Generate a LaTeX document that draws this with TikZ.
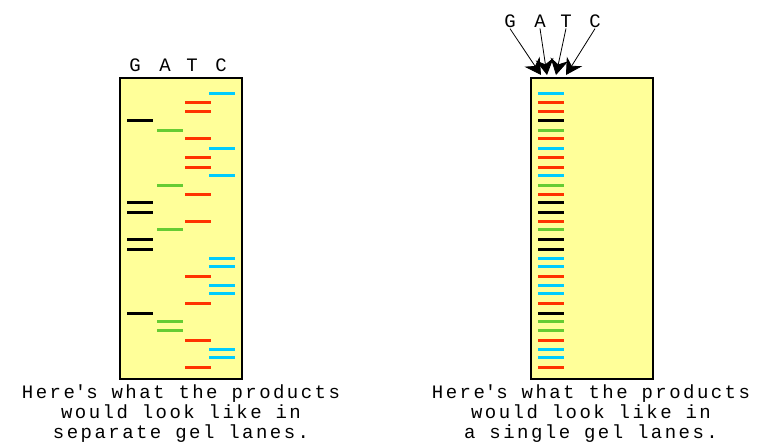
\documentclass[tikz,border=0pt]{standalone}
\usepackage{fontspec}
\setmonofont[LetterSpace=13]{Liberation Mono}
\usetikzlibrary{arrows.meta}
\definecolor{gelfill}{RGB}{255,255,153}
\definecolor{bandcyan}{RGB}{0,204,255}
\definecolor{bandred}{RGB}{255,51,0}
\definecolor{bandgreen}{RGB}{102,204,51}
\begin{document}
\begin{tikzpicture}[x=1pt,y=-1pt,
  gel/.style={draw=black, line width=1.5pt, fill=gelfill, minimum width=122pt, minimum height=301pt, inner sep=0pt},
  bandG/.style={draw=black, line width=3pt},
  bandA/.style={draw=bandgreen, line width=3pt},
  bandT/.style={draw=bandred, line width=3pt},
  bandC/.style={draw=bandcyan, line width=3pt},
  letter/.style={font=\ttfamily\fontsize{19}{20}\selectfont, inner sep=1pt},
  caption/.style={font=\ttfamily\fontsize{19}{20}\selectfont, align=center, inner sep=0pt},
  bigarrow/.style={line width=0.8pt, -{Stealth[length=16pt,width=18pt]}}
]
\useasboundingbox (0,0) rectangle (760,442);

% gels
\node[gel] (gelL) at (181,228.5) {};
\node[gel] (gelR) at (592,228.5) {};

% left letters
\node[letter] (lG) at (135,65) {G};
\node[letter] (lA) at (165,65) {A};
\node[letter] (lT) at (192,65) {T};
\node[letter] (lC) at (221,65) {C};

% right letters
\node[letter] (rG) at (510,21) {G};
\node[letter] (rA) at (540,21) {A};
\node[letter] (rT) at (566,21) {T};
\node[letter] (rC) at (595,21) {C};

\coordinate (tG) at (541,75);
\coordinate (tA) at (547,75);
\coordinate (tT) at (556,75);
\coordinate (tC) at (566,75);
\draw[bigarrow] (rG.south) -- (tG);
\draw[bigarrow] (rA.south) -- (tA);
\draw[bigarrow] (rT.south) -- (tT);
\draw[bigarrow] (rC.south) -- (tC);

% bands
\foreach \y/\b/\cx in {93.7/C/222, 102.7/T/198, 111/T/198, 120.7/G/140, 130.3/A/170,
  138.3/T/198, 148/C/222, 157.7/T/198, 167/T/198, 175.3/C/222, 185/A/170,
  194.7/T/198, 202.7/G/140, 212/G/140, 221.7/T/198, 229.7/A/170, 239.3/G/140,
  249/G/140, 258.7/C/222, 266.7/C/222, 276/T/198, 285.7/C/222, 293.7/C/222,
  303.3/T/198, 313/G/140, 321/A/170, 330.7/A/170, 340/T/198, 349.7/C/222,
  357.7/C/222, 367.3/T/198}{
  \draw[band\b] (\cx-13,\y) -- (\cx+13,\y);
  \draw[band\b] (538,\y) -- (564,\y);
}

% captions
\node[caption] (capL) at (181,414) {Here\textquotesingle s what the products\\would look like in\\separate gel lanes.};
\node[caption] (capR) at (591,414) {Here\textquotesingle s what the products\\would look like in\\a single gel lanes.};
\end{tikzpicture}
\end{document}
